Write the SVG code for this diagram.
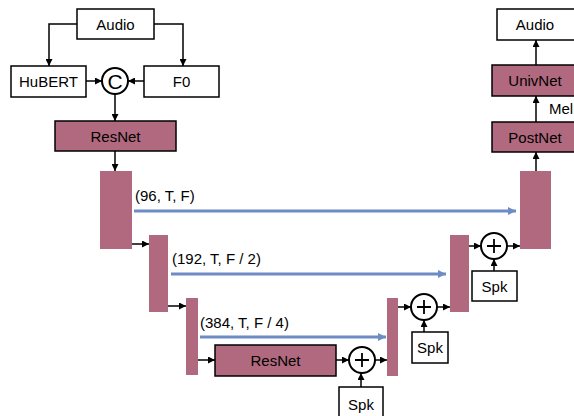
<svg xmlns="http://www.w3.org/2000/svg" width="574" height="416" viewBox="0 0 574 416">
  <defs>
    <marker id="ah" viewBox="0 0 10 10" refX="10" refY="5" markerWidth="7" markerHeight="7" markerUnits="userSpaceOnUse" orient="auto">
      <path d="M0,0 L10,5 L0,10 z" fill="#000"/>
    </marker>
    <marker id="ahb" viewBox="0 0 10 10" refX="10" refY="5" markerWidth="8" markerHeight="8" markerUnits="userSpaceOnUse" orient="auto">
      <path d="M0,0 L10,5 L0,10 z" fill="#6d8bc4"/>
    </marker>
  </defs>
  <style>
    .box { fill: #fff; stroke: #000; stroke-width: 1.5; }
    .mod { fill: #b0697f; stroke: #000; stroke-width: 1.5; }
    .bar { fill: #b0697f; stroke: none; }
    .op { fill: #fff; stroke: #000; stroke-width: 2; }
    .plus { stroke: #000; stroke-width: 1.8; fill: none; }
    .lbl { font-family: "Liberation Sans", Arial, sans-serif; font-size: 15px; fill: #000; text-anchor: middle; }
    .dim { font-family: "Liberation Sans", Arial, sans-serif; font-size: 15px; fill: #000; }
    .edge { stroke: #000; stroke-width: 1.5; fill: none; marker-end: url(#ah); }
    .skip { stroke: #6d8bc4; stroke-width: 3; fill: none; marker-end: url(#ahb); }
  </style>

  <!-- input side -->
  <g id="audio-in"><rect class="box" x="77" y="9" width="77" height="30"/><text class="lbl" x="115.5" y="29.5">Audio</text></g>
  <g id="hubert"><rect class="box" x="11" y="66" width="75" height="31"/><text class="lbl" x="48.5" y="87">HuBERT</text></g>
  <g id="f0"><rect class="box" x="144" y="66" width="75" height="31"/><text class="lbl" x="181.5" y="87">F0</text></g>
  <g id="concat"><circle class="op" cx="115" cy="81" r="13"/><text class="lbl" x="115" y="88.5" style="font-size:21px">C</text></g>
  <g id="resnet-in"><rect class="mod" x="55" y="121" width="121" height="30"/><text class="lbl" x="115.5" y="141.5">ResNet</text></g>

  <!-- encoder / decoder feature blocks -->
  <g id="enc1"><rect class="bar" x="100" y="171" width="32" height="78"/></g>
  <g id="enc2"><rect class="bar" x="149" y="235" width="19" height="77"/></g>
  <g id="enc3"><rect class="bar" x="186" y="298" width="12" height="77"/></g>
  <g id="resnet-mid"><rect class="mod" x="215" y="345" width="121" height="31"/><text class="lbl" x="275.5" y="366">ResNet</text></g>
  <g id="dec3"><rect class="bar" x="387" y="298" width="11" height="78"/></g>
  <g id="dec2"><rect class="bar" x="450" y="235" width="19" height="77"/></g>
  <g id="dec1"><rect class="bar" x="520" y="171" width="31" height="78"/></g>

  <!-- speaker additions -->
  <g id="add1"><circle class="op" cx="362" cy="360" r="13"/><path class="plus" d="M355,360 H369 M362,353 V367"/></g>
  <g id="spk1"><rect class="box" x="339" y="387" width="44" height="32"/><text class="lbl" x="361" y="410">Spk</text></g>
  <g id="add2"><circle class="op" cx="424" cy="307" r="13"/><path class="plus" d="M417,307 H431 M424,300 V314"/></g>
  <g id="spk2"><rect class="box" x="412" y="332" width="36" height="31"/><text class="lbl" x="430" y="353">Spk</text></g>
  <g id="add3"><circle class="op" cx="494" cy="246" r="13"/><path class="plus" d="M487,246 H501 M494,239 V253"/></g>
  <g id="spk3"><rect class="box" x="472" y="271" width="45" height="30"/><text class="lbl" x="494.5" y="291.5">Spk</text></g>

  <!-- output side -->
  <g id="postnet"><rect class="mod" x="492" y="122" width="86" height="30"/><text class="lbl" x="535" y="142.5">PostNet</text></g>
  <g id="univnet"><rect class="mod" x="492" y="65" width="86" height="31"/><text class="lbl" x="535" y="86">UnivNet</text></g>
  <g id="audio-out"><rect class="box" x="497" y="9" width="78" height="31"/><text class="lbl" x="535" y="30">Audio</text></g>

  <!-- connectors -->
  <g id="connectors">
    <path class="edge" d="M77,24 H49 V66"/>
    <path class="edge" d="M154,24 H183 V66"/>
    <path class="edge" d="M86,81 H102"/>
    <path class="edge" d="M144,81 H128"/>
    <path class="edge" d="M115,94 V121"/>
    <path class="edge" d="M115,151 V171"/>
    <path class="edge" d="M132,244 H149"/>
    <path class="edge" d="M168,306 H186"/>
    <path class="edge" d="M198,360 H215"/>
    <path class="edge" d="M336,360 H349"/>
    <path class="edge" d="M375,360 H387"/>
    <path class="edge" d="M361,387 V373"/>
    <path class="edge" d="M398,307 H411"/>
    <path class="edge" d="M437,307 H450"/>
    <path class="edge" d="M424,332 V320"/>
    <path class="edge" d="M469,246 H481"/>
    <path class="edge" d="M507,246 H520"/>
    <path class="edge" d="M494,271 V259"/>
    <path class="edge" d="M536,171 V152"/>
    <path class="edge" d="M536,122 V96"/>
    <path class="edge" d="M536,65 V40"/>
    <path class="skip" d="M134,211 H516"/>
    <path class="skip" d="M171,274 H446"/>
    <path class="skip" d="M200,337 H386"/>
  </g>

  <!-- labels -->
  <text class="dim" x="135" y="201">(96, T, F)</text>
  <text class="dim" x="172" y="264">(192, T, F / 2)</text>
  <text class="dim" x="200" y="328">(384, T, F / 4)</text>
  <text class="dim" x="549" y="114">Mel</text>
</svg>
